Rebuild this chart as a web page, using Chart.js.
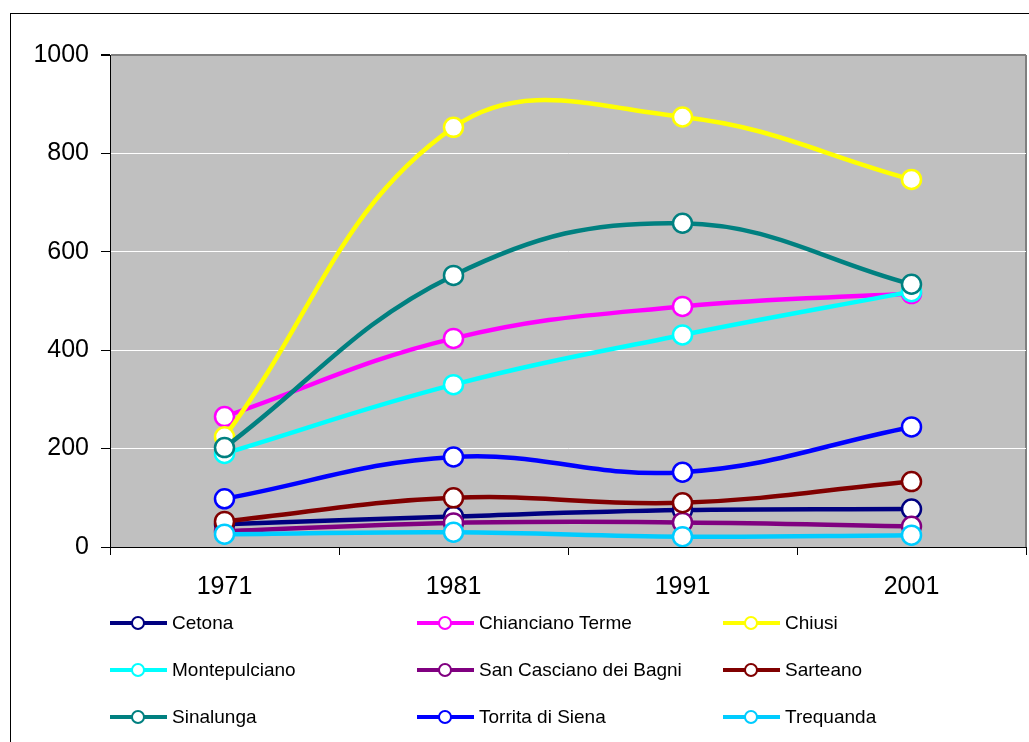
<!DOCTYPE html>
<html>
<head>
<meta charset="utf-8">
<script src="https://cdn.jsdelivr.net/npm/chart.js@4/dist/chart.umd.min.js"></script>
<style>
  html, body { margin: 0; padding: 0; background: #fff; }
  #wrap { position: relative; width: 1029px; height: 742px; overflow: hidden; font-family: 'Liberation Sans', Arial, sans-serif; }
  #frame { position: absolute; left: 10px; top: 13px; width: 1100px; height: 800px; border: 1px solid #000; box-sizing: border-box; }
  #chart { position: absolute; left: 0; top: 0; }
  .leg { position: absolute; height: 20px; font-size: 19px; color: #000; line-height: 20px; white-space: nowrap; }
  .leg .ln { position: absolute; left: 0; top: 8px; width: 57px; height: 4px; }
  .leg .dot { position: absolute; left: 21px; top: 3px; width: 10px; height: 10px; border-radius: 50%; background: #fff; border: 2.5px solid; }
  .leg .tx { position: absolute; left: 62px; top: 0; }
</style>
</head>
<body>
<div id="wrap">
  <div id="frame"></div>
  <canvas id="chart" width="1029" height="742"></canvas>
  <div id="legend"></div>
</div>
<script>
const years = ['1971', '1981', '1991', '2001'];

const cetona        = [46, 62, 75, 77];
const chianciano    = [265, 424, 489, 515];
const chiusi        = [224, 853, 874, 747];
const montepulciano = [190, 330, 431, 519];
const sanCasciano   = [32, 49, 50, 42];
const sarteano      = [52, 100, 90, 133];
const sinalunga     = [202, 552, 658, 534];
const torrita       = [98, 183, 152, 244];
const trequanda     = [26, 30, 21, 24];

const series = [
  { name: 'Cetona', data: cetona, color: '#000080' },
  { name: 'Chianciano Terme', data: chianciano, color: '#FF00FF' },
  { name: 'Chiusi', data: chiusi, color: '#FFFF00' },
  { name: 'Montepulciano', data: montepulciano, color: '#00FFFF' },
  { name: 'San Casciano dei Bagni', data: sanCasciano, color: '#800080' },
  { name: 'Sarteano', data: sarteano, color: '#800000' },
  { name: 'Sinalunga', data: sinalunga, color: '#008080' },
  { name: 'Torrita di Siena', data: torrita, color: '#0000FF' },
  { name: 'Trequanda', data: trequanda, color: '#00CCFF' }
];

// grey plot area like the old Excel charts
const plotBg = {
  id: 'plotBg',
  beforeDraw(chart) {
    const { ctx, chartArea: a } = chart;
    ctx.save();
    ctx.fillStyle = '#C0C0C0';
    ctx.fillRect(a.left, a.top, a.right - a.left, a.bottom - a.top);
    ctx.strokeStyle = '#808080';
    ctx.lineWidth = 2;
    ctx.beginPath();
    ctx.moveTo(a.right, a.top);
    ctx.lineTo(a.right, a.bottom);
    ctx.stroke();
    ctx.restore();
  }
};

const axisFont = { family: "'Liberation Sans', Arial, sans-serif", size: 25 };

new Chart(document.getElementById('chart'), {
  type: 'line',
  data: {
    labels: years,
    datasets: series.map((s, i) => ({
      label: s.name,
      data: s.data,
      borderColor: s.color,
      borderWidth: 4.5,
      tension: 0.4,
      pointRadius: 9.5,
      pointBorderWidth: 2.5,
      pointBackgroundColor: '#fff',
      pointBorderColor: s.color,
      order: series.length - i
    }))
  },
  options: {
    responsive: false,
    animation: false,
    layout: { autoPadding: false, padding: { left: 10, top: 55, right: 3, bottom: 135 } },
    plugins: { legend: { display: false }, tooltip: { enabled: false } },
    scales: {
      x: {
        offset: true,
        grid: { offset: true, drawOnChartArea: false, drawTicks: true, tickLength: 8, color: '#000' },
        border: { color: '#000', width: 1 },
        ticks: { color: '#000', font: axisFont, padding: 17 },
        afterFit: s => { s.height = 60; }
      },
      y: {
        min: 0, max: 1000,
        grid: {
          color: c => c.tick.value === 0 ? 'rgba(0,0,0,0)' : (c.tick.value === 1000 ? '#808080' : '#fff'),
          lineWidth: c => c.tick.value === 1000 ? 2 : 1,
          tickColor: '#000',
          tickLength: 9
        },
        border: { color: '#000', width: 1 },
        ticks: { stepSize: 200, color: '#000', font: axisFont, padding: 12, callback: v => String(v) },
        afterFit: s => { s.width = 100; }
      }
    }
  },
  plugins: [plotBg]
});

// legend laid out in three columns, like the reference
const legCols = [110, 417, 723];
const legRows = [613, 660, 707];
const legend = document.getElementById('legend');
series.forEach((s, i) => {
  const el = document.createElement('div');
  el.className = 'leg';
  el.style.left = legCols[i % 3] + 'px';
  el.style.top = legRows[Math.floor(i / 3)] + 'px';
  el.innerHTML = `<div class="ln" style="background:${s.color}"></div><div class="dot" style="border-color:${s.color}"></div><div class="tx">${s.name}</div>`;
  legend.appendChild(el);
});
</script>
</body>
</html>
